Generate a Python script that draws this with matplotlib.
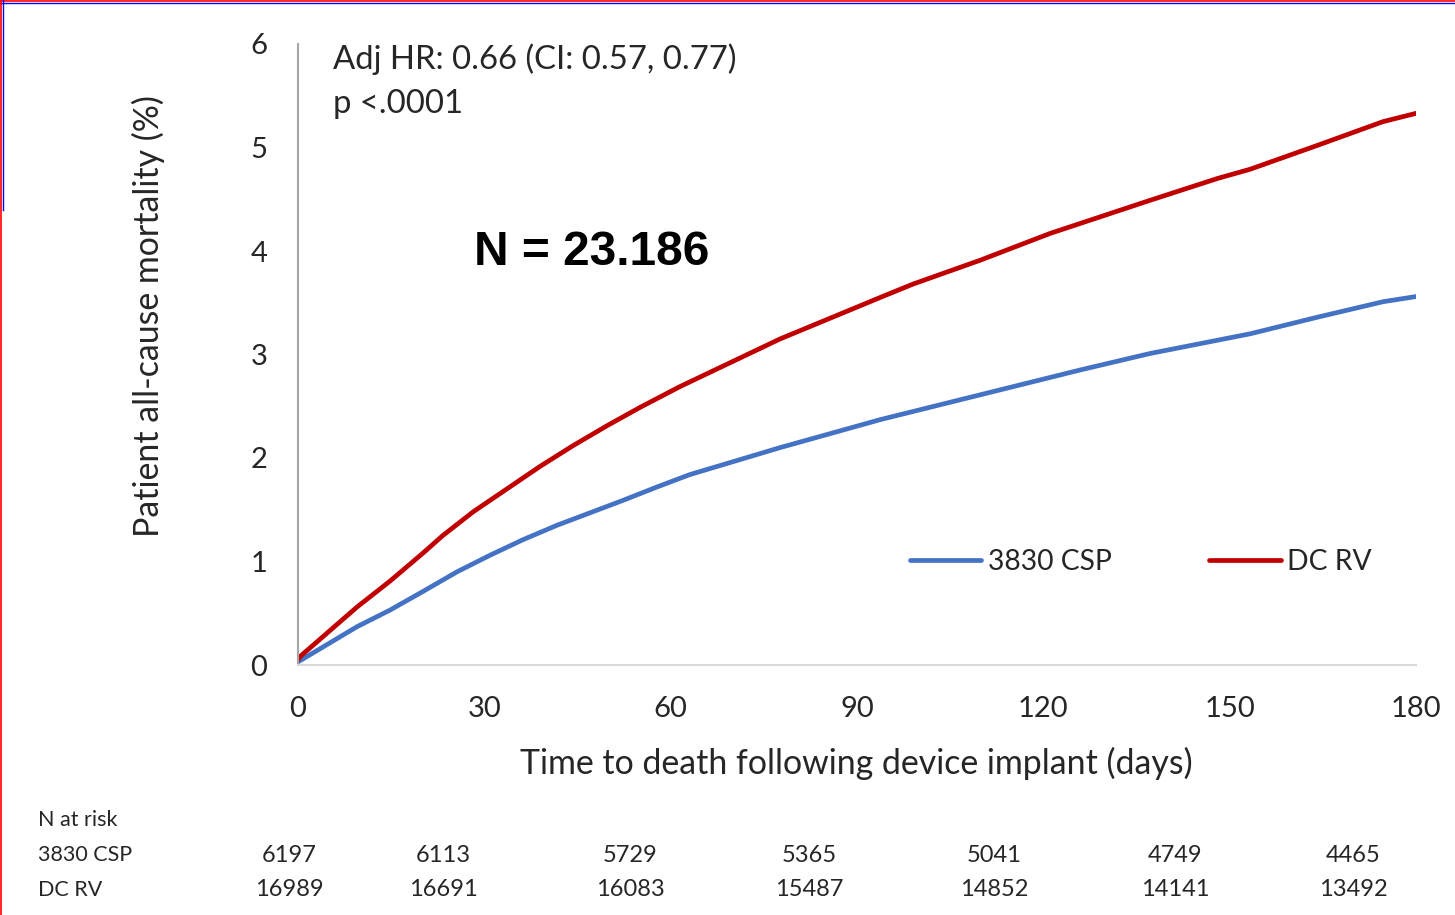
import matplotlib
matplotlib.use("Agg")
import matplotlib.pyplot as plt
from matplotlib.lines import Line2D

plt.rcParams['font.family'] = ['Lato', 'DejaVu Sans']

# cumulative all-cause mortality (%) by day after implant
rv_days = [0, 0.3, 9.5, 14.8, 20.1, 23.3, 28.2, 33.6, 39.0, 44.3, 49.7, 55.1, 61.5,
           77.6, 93.7, 99.0, 109.8, 121.1, 137.2, 148.0, 153.3, 164.1, 174.7, 180]
rv_mort = [0.05, 0.08, 0.56, 0.81, 1.08, 1.25, 1.48, 1.70, 1.92, 2.12, 2.31, 2.49, 2.69,
           3.15, 3.55, 3.68, 3.91, 4.17, 4.49, 4.70, 4.79, 5.02, 5.25, 5.33]
csp_days = [0, 9.5, 14.8, 20.1, 25.6, 30.9, 36.2, 41.7, 47.0, 52.3, 57.8, 63.1,
            77.6, 93.7, 109.8, 125.9, 137.2, 153.3, 164.1, 174.7, 180]
csp_mort = [0.03, 0.37, 0.53, 0.71, 0.90, 1.06, 1.21, 1.35, 1.47, 1.59, 1.72, 1.84,
            2.10, 2.37, 2.61, 2.85, 3.01, 3.20, 3.36, 3.51, 3.56]

x_ticks = [0, 30, 60, 90, 120, 150, 180]
y_ticks = [0, 1, 2, 3, 4, 5, 6]

risk_groups = ['3830 CSP', 'DC RV']
risk_csp = [6197, 6113, 5729, 5365, 5041, 4749, 4465]
risk_rv = [16989, 16691, 16083, 15487, 14852, 14141, 13492]

W, H = 1455, 915
fig = plt.figure(figsize=(W / 100, H / 100), dpi=100)
ax = fig.add_axes([298 / W, 1 - 665 / H, 1118 / W, 621 / H])

blue = '#4472C4'
red = '#C00000'
ax.plot(csp_days, csp_mort, color=blue, lw=3.4, label='3830 CSP', solid_capstyle='round',
        solid_joinstyle='round')
ax.plot(rv_days, rv_mort, color=red, lw=3.4, label='DC RV', solid_capstyle='round',
        solid_joinstyle='round')

ax.set_xlim(0, 180)
ax.set_ylim(0, 6)
ax.set_xticks(x_ticks)
ax.set_yticks(y_ticks)
ax.tick_params(length=0, labelsize=21, colors='#262626')
ax.tick_params(axis='y', pad=22)
ax.tick_params(axis='x', pad=22)
for s in ['top', 'right']:
    ax.spines[s].set_visible(False)
ax.spines['left'].set_color('#A6A6A6')
ax.spines['left'].set_linewidth(1.5)
ax.spines['bottom'].set_color('#D9D9D9')
ax.spines['bottom'].set_linewidth(1.5)

ax.set_xlabel('Time to death following device implant (days)', fontsize=24.4,
              color='#262626', va='center')
ax.xaxis.set_label_coords(0.499, -0.158)
ax.set_ylabel('Patient all-cause mortality (%)', fontsize=24.4, color='#262626', va='center')
ax.yaxis.set_label_coords(-0.134, 0.562)

ax.text(0.031, 0.975, 'Adj HR: 0.66 (CI: 0.57, 0.77)', transform=ax.transAxes,
        fontsize=23.7, color='#262626', va='center')
ax.text(0.031, 0.903, 'p <.0001', transform=ax.transAxes,
        fontsize=23.7, color='#262626', va='center')
ax.text(0.157, 0.664, 'N = 23.186', transform=ax.transAxes, fontsize=34.5,
        fontweight='bold', family='Liberation Sans', va='center')

ax.legend(loc='center left', bbox_to_anchor=(0.547, 0.166), ncol=2, frameon=False,
          fontsize=20.3, handlelength=2.55, handletextpad=0.22, columnspacing=3.45,
          borderpad=0, borderaxespad=0, labelcolor='#262626')

# number at risk table under the plot
col_x = [289, 443, 630, 809, 994, 1175, 1353]
fs_name = 15.5
fs_num = 17
fig.text(38 / W, 1 - 820 / H, 'N at risk', fontsize=fs_name, va='center', color='#262626')
for row_y, name, vals in [(855, risk_groups[0], risk_csp), (890, risk_groups[1], risk_rv)]:
    fig.text(38 / W, 1 - row_y / H, name, fontsize=fs_name, va='center', color='#262626')
    for cx, v in zip(col_x, vals):
        fig.text(cx / W, 1 - row_y / H, str(v), fontsize=fs_num, ha='center', va='center',
                 color='#262626')

# thin frame along top and left edges
fig.add_artist(Line2D([0, 1], [1 - 1 / H, 1 - 1 / H], color='red', lw=1.2))
fig.add_artist(Line2D([0, 1], [1 - 2.5 / H, 1 - 2.5 / H], color='blue', lw=1))
fig.add_artist(Line2D([1 / W, 1 / W], [0, 1], color='red', lw=1.2))
fig.add_artist(Line2D([2.5 / W, 2.5 / W], [1 - 210 / H, 1], color='blue', lw=1))

fig.savefig('out.png', dpi=100, facecolor='white')
